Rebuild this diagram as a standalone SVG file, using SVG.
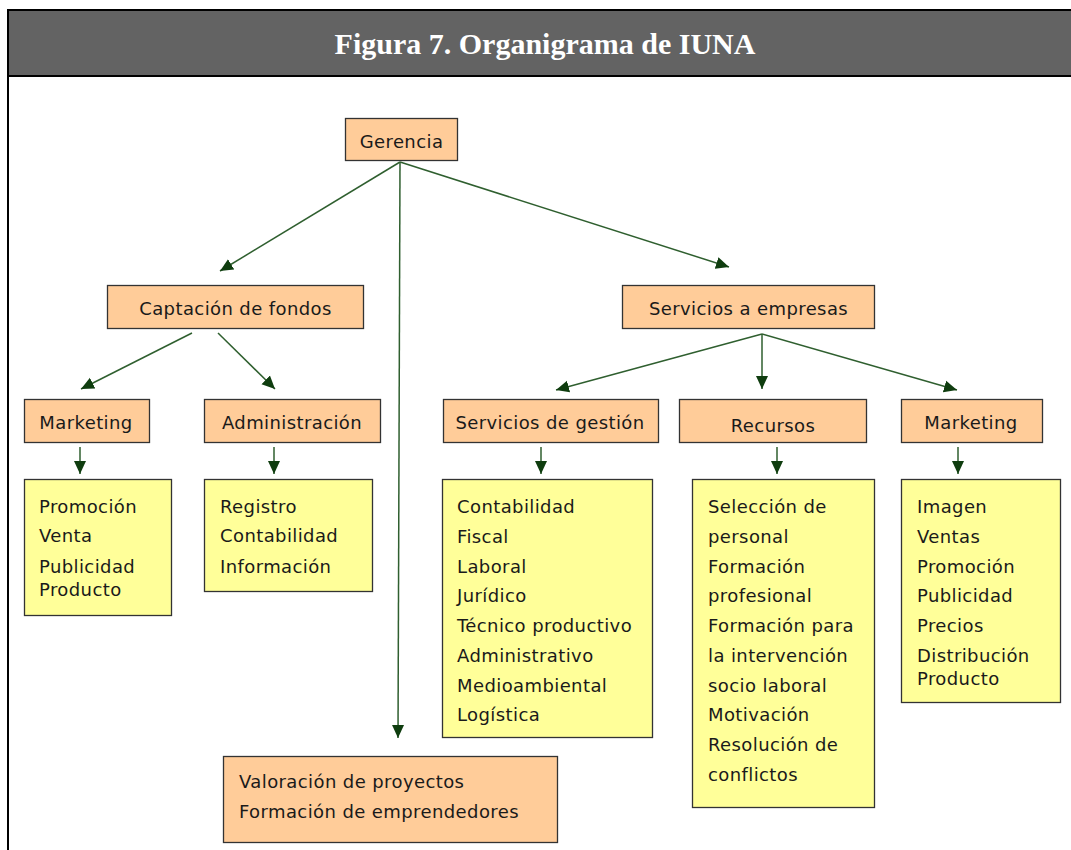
<svg xmlns="http://www.w3.org/2000/svg" width="1071" height="850" viewBox="0 0 1071 850">
<style>
.peach{fill:#ffcc99;stroke:#333;stroke-width:1.3}
.yellow{fill:#ffff99;stroke:#333;stroke-width:1.3}
.t{font-family:"DejaVu Sans","Liberation Sans",sans-serif;font-size:18px;letter-spacing:0.4px;fill:#1a1a1a}
.c{text-anchor:middle}
.conn line{stroke:#2f5f2f;stroke-width:1.5;marker-end:url(#ah)}
.title{font-family:"Liberation Serif","Times New Roman",serif;font-weight:bold;font-size:30px;fill:#fff;text-anchor:middle}
</style>
<defs>
<marker id="ah" markerUnits="userSpaceOnUse" markerWidth="14" markerHeight="14" viewBox="0 0 14 14" refX="13" refY="7" orient="auto">
<path d="M0,1 L13,7 L0,13 z" fill="#0f3d0f"/>
</marker>
</defs>
<rect width="1071" height="850" fill="#fff"/>
<g id="header">
<rect x="8" y="10" width="1070" height="66" fill="#636363" stroke="#000" stroke-width="2"/>
<line x1="8" y1="76" x2="8" y2="850" stroke="#000" stroke-width="2"/>
<text class="title" x="545" y="54">Figura 7. Organigrama de IUNA</text>
</g>
<g id="connectors" class="conn">
<line x1="400" y1="162" x2="220" y2="271"/>
<line x1="400" y1="162" x2="729" y2="267"/>
<line x1="400" y1="162" x2="398" y2="738"/>
<line x1="192" y1="333" x2="81" y2="389"/>
<line x1="218" y1="333" x2="275" y2="389"/>
<line x1="762" y1="334" x2="556" y2="390"/>
<line x1="762" y1="334" x2="762" y2="389"/>
<line x1="762" y1="334" x2="957" y2="390"/>
<line x1="80" y1="447" x2="80" y2="474"/>
<line x1="274" y1="447" x2="274" y2="474"/>
<line x1="541" y1="447" x2="541" y2="474"/>
<line x1="777" y1="447" x2="777" y2="474"/>
<line x1="958" y1="447" x2="958" y2="474"/>
</g>
<g id="gerencia">
<rect class="peach" x="345.5" y="118.5" width="112" height="42"/>
<text class="t c" x="401.5" y="148">Gerencia</text>
</g>
<g id="captacion">
<rect class="peach" x="107.5" y="285.5" width="256" height="43"/>
<text class="t c" x="235.5" y="315">Captación de fondos</text>
</g>
<g id="servicios-empresas">
<rect class="peach" x="622.5" y="285.5" width="252" height="43"/>
<text class="t c" x="748.5" y="315">Servicios a empresas</text>
</g>
<g id="marketing-1">
<rect class="peach" x="24.5" y="399.5" width="125" height="43"/>
<text class="t c" x="86" y="429">Marketing</text>
</g>
<g id="administracion">
<rect class="peach" x="204.5" y="399.5" width="176" height="43"/>
<text class="t c" x="292" y="429">Administración</text>
</g>
<g id="servicios-gestion">
<rect class="peach" x="443.5" y="399.5" width="215" height="43"/>
<text class="t c" x="550" y="429">Servicios de gestión</text>
</g>
<g id="recursos">
<rect class="peach" x="679.5" y="399.5" width="187" height="43"/>
<text class="t c" x="773" y="432">Recursos</text>
</g>
<g id="marketing-2">
<rect class="peach" x="901.5" y="399.5" width="141" height="43"/>
<text class="t c" x="971" y="429">Marketing</text>
</g>
<g id="list-marketing-1">
<rect class="yellow" x="24.5" y="479.5" width="147" height="136"/>
<text class="t" x="39" y="513">Promoción</text>
<text class="t" x="39" y="542">Venta</text>
<text class="t" x="39" y="573">Publicidad</text>
<text class="t" x="39" y="596">Producto</text>
</g>
<g id="list-administracion">
<rect class="yellow" x="204.5" y="479.5" width="168" height="112"/>
<text class="t" x="220" y="513">Registro</text>
<text class="t" x="220" y="542">Contabilidad</text>
<text class="t" x="220" y="573">Información</text>
</g>
<g id="list-gestion">
<rect class="yellow" x="442.5" y="479.5" width="210" height="258"/>
<text class="t" x="457" y="513">Contabilidad</text>
<text class="t" x="457" y="543">Fiscal</text>
<text class="t" x="457" y="573">Laboral</text>
<text class="t" x="457" y="602">Jurídico</text>
<text class="t" x="457" y="632">Técnico productivo</text>
<text class="t" x="457" y="662">Administrativo</text>
<text class="t" x="457" y="692">Medioambiental</text>
<text class="t" x="457" y="721">Logística</text>
</g>
<g id="list-recursos">
<rect class="yellow" x="692.5" y="479.5" width="182" height="328"/>
<text class="t" x="708" y="513">Selección de</text>
<text class="t" x="708" y="543">personal</text>
<text class="t" x="708" y="573">Formación</text>
<text class="t" x="708" y="602">profesional</text>
<text class="t" x="708" y="632">Formación para</text>
<text class="t" x="708" y="662">la intervención</text>
<text class="t" x="708" y="692">socio laboral</text>
<text class="t" x="708" y="721">Motivación</text>
<text class="t" x="708" y="751">Resolución de</text>
<text class="t" x="708" y="781">conflictos</text>
</g>
<g id="list-marketing-2">
<rect class="yellow" x="901.5" y="479.5" width="159" height="223"/>
<text class="t" x="917" y="513">Imagen</text>
<text class="t" x="917" y="543">Ventas</text>
<text class="t" x="917" y="573">Promoción</text>
<text class="t" x="917" y="602">Publicidad</text>
<text class="t" x="917" y="632">Precios</text>
<text class="t" x="917" y="662">Distribución</text>
<text class="t" x="917" y="685">Producto</text>
</g>
<g id="valoracion">
<rect class="peach" x="223.5" y="756.5" width="334" height="86"/>
<text class="t" x="239" y="788">Valoración de proyectos</text>
<text class="t" x="239" y="818">Formación de emprendedores</text>
</g>
</svg>
